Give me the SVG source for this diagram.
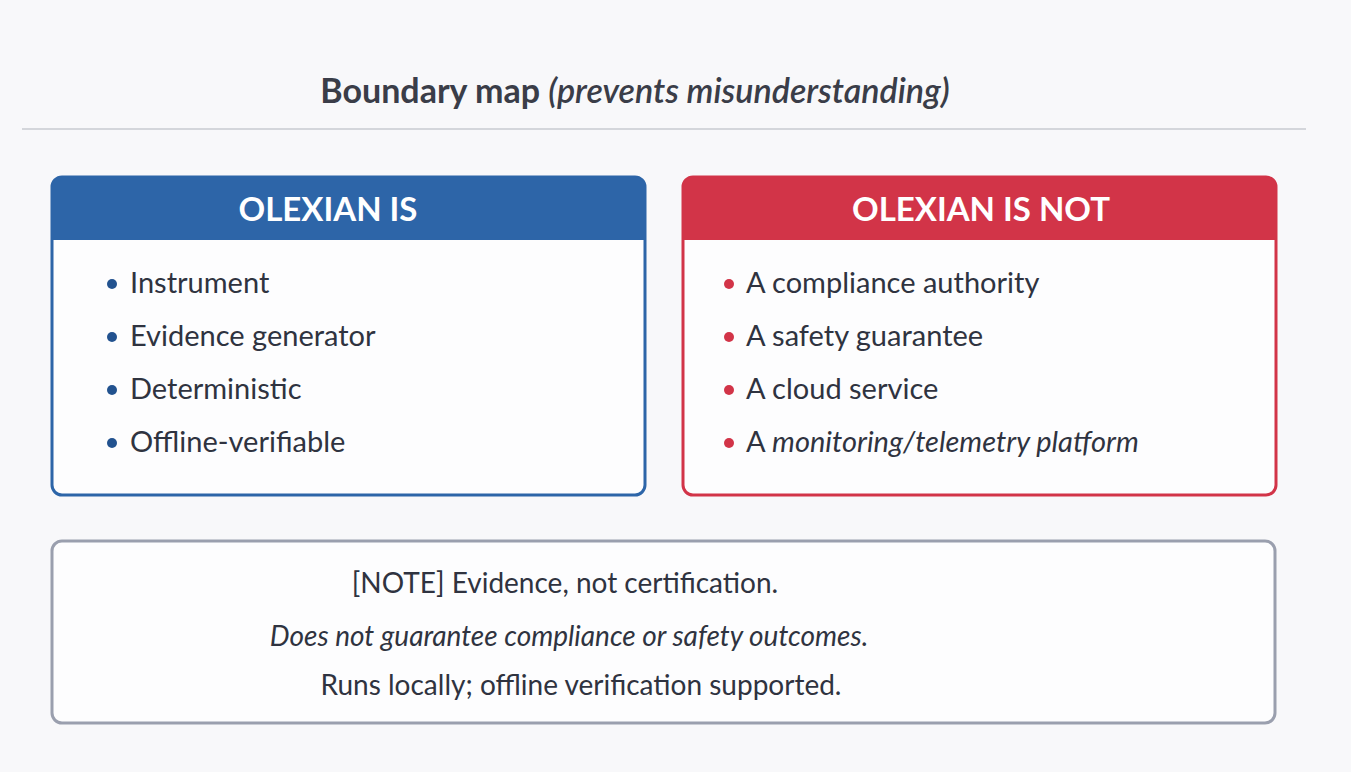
<svg xmlns="http://www.w3.org/2000/svg" width="1351" height="772" viewBox="0 0 1351 772">
<style>
text{font-family:Lato,"Open Sans","Liberation Sans",sans-serif;fill:#2f3340}
.t{font-size:34px;font-weight:bold;fill:#3a3d48}
.h{font-size:33px;font-weight:bold;fill:#fff}
.i{font-size:29px}
.n{font-size:28px}
</style>
<rect width="1351" height="772" fill="#f8f8fa"/>
<text class="t" x="635" y="103" text-anchor="middle">Boundary map <tspan font-style="italic" font-weight="600">(prevents misunderstanding)</tspan></text>
<line x1="22" y1="129" x2="1306" y2="129" stroke="#c9cbd0" stroke-width="1.5"/>
<g id="is">
<rect x="52" y="177" width="593" height="318" rx="10" fill="#fdfdfe" stroke="#2d65a8" stroke-width="3"/>
<path d="M52 240V187a10 10 0 0 1 10-10H635a10 10 0 0 1 10 10V240Z" fill="#2d65a8"/>
<text class="h" x="328" y="221" text-anchor="middle">OLEXIAN IS</text>
<g fill="#22528f"><circle cx="112" cy="284" r="5"/><circle cx="112" cy="337" r="5"/><circle cx="112" cy="390" r="5"/><circle cx="112" cy="443" r="5"/></g>
<text class="i" x="130" y="293">Instrument</text>
<text class="i" x="130" y="346">Evidence generator</text>
<text class="i" x="130" y="399">Deterministic</text>
<text class="i" x="130" y="452">Offline-verifiable</text>
</g>
<g id="isnot">
<rect x="683" y="177" width="593" height="318" rx="10" fill="#fdfdfe" stroke="#d23448" stroke-width="3"/>
<path d="M683 240V187a10 10 0 0 1 10-10H1266a10 10 0 0 1 10 10V240Z" fill="#d23448"/>
<text class="h" x="981" y="221" text-anchor="middle">OLEXIAN IS NOT</text>
<g fill="#d23448"><circle cx="729" cy="284" r="5"/><circle cx="729" cy="337" r="5"/><circle cx="729" cy="390" r="5"/><circle cx="729" cy="443" r="5"/></g>
<text class="i" x="746" y="293">A compliance authority</text>
<text class="i" x="746" y="346">A safety guarantee</text>
<text class="i" x="746" y="399">A cloud service</text>
<text class="i" x="746" y="452">A <tspan font-style="italic">monitoring/telemetry platform</tspan></text>
</g>
<g id="note">
<rect x="52" y="541" width="1223" height="182" rx="10" fill="#fdfdfe" stroke="#9a9fae" stroke-width="3"/>
<text class="n" x="565" y="593" text-anchor="middle">[NOTE] Evidence, not certification.</text>
<text class="n" x="569" y="646" text-anchor="middle" font-style="italic">Does not guarantee compliance or safety outcomes.</text>
<text class="n" x="581" y="695" text-anchor="middle">Runs locally; offline verification supported.</text>
</g>
<g id="connectors"/>
</svg>
